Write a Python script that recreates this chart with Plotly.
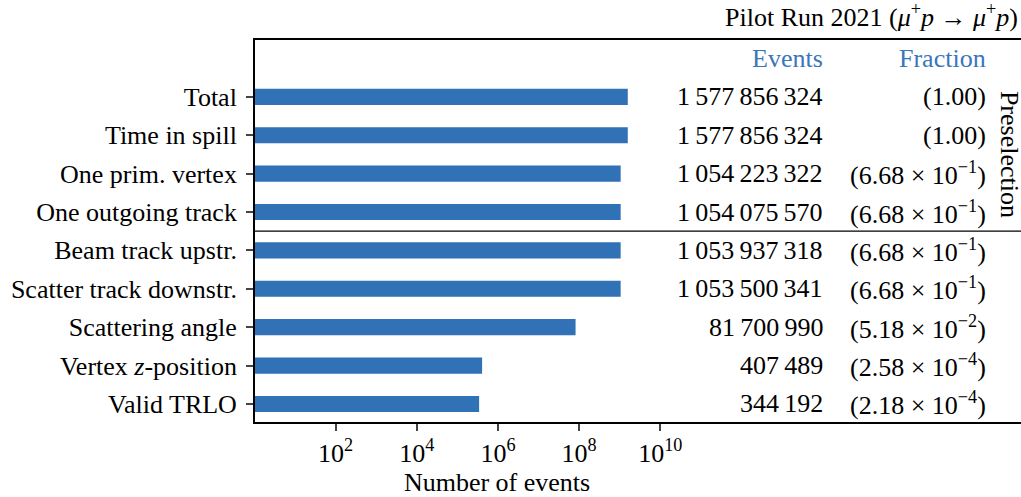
import plotly.graph_objects as go

# cut flow, top to bottom
cuts = [
    "Total",
    "Time in spill",
    "One prim. vertex",
    "One outgoing track",
    "Beam track upstr.",
    "Scatter track downstr.",
    "Scattering angle",
    "Vertex <i>z</i>-position",
    "Valid TRLO",
]
events = [
    1577856324,
    1577856324,
    1054223322,
    1054075570,
    1053937318,
    1053500341,
    81700990,
    407489,
    344192,
]
frac_mantissa = [None, None, 6.68, 6.68, 6.68, 6.68, 5.18, 2.58, 2.18]
frac_exponent = [None, None, -1, -1, -1, -1, -2, -4, -4]
xtick_vals = [1e2, 1e4, 1e6, 1e8, 1e10]
xtick_text = ["10<sup>2</sup>", "10<sup>4</sup>", "10<sup>6</sup>", "10<sup>8</sup>", "10<sup>10</sup>"]

BAR = "#3171b5"
HEAD = "#3a76ba"
FONT = "Liberation Serif"
FS = 26

ypos = list(range(len(cuts)))

fig = go.Figure()
fig.add_trace(
    go.Bar(
        x=events,
        y=ypos,
        orientation="h",
        width=0.42,
        marker=dict(color=BAR, line_width=0),
        base=1,
    )
)
# empty helper trace so the full-width frame axis gets drawn
fig.add_trace(go.Scatter(x=[None], y=[None], xaxis="x2", yaxis="y", mode="markers",
                         hoverinfo="skip"))


def fmt_events(n):
    return f"{n:,}".replace(",", "\u2009")


def fmt_frac(m, e):
    if m is None:
        return "(1.00)"
    return f"({m:.2f} × 10<sup>−{abs(e)}</sup>)"


EV_X = 0.744
FR_X = 0.957

annotations = []
for i, (n, m, e) in enumerate(zip(events, frac_mantissa, frac_exponent)):
    annotations.append(dict(x=EV_X, y=i, xref="paper", yref="y", text=fmt_events(n),
                            xanchor="right", showarrow=False))
    annotations.append(dict(x=FR_X, y=i, xref="paper", yref="y", text=fmt_frac(m, e),
                            xanchor="right", showarrow=False))

annotations += [
    dict(x=EV_X, y=-1, xref="paper", yref="y", text="Events", xanchor="right",
         showarrow=False, font=dict(color=HEAD)),
    dict(x=FR_X, y=-1, xref="paper", yref="y", text="Fraction", xanchor="right",
         showarrow=False, font=dict(color=HEAD)),
    dict(x=0.985, y=1.5, xref="paper", yref="y", text="Preselection", textangle=90,
         xanchor="center", yanchor="middle", showarrow=False, borderpad=0),
    dict(x=0.999, y=1.0, xref="paper", yref="paper", yanchor="bottom", xanchor="right",
         text="Pilot Run 2021 (<i>μ</i><sup>+</sup><i>p</i> → <i>μ</i><sup>+</sup><i>p</i>)",
         showarrow=False, yshift=6),
]

fig.update_layout(
    width=1021,
    height=497,
    margin=dict(l=255, r=0, t=40, b=75, autoexpand=False),
    plot_bgcolor="rgba(0,0,0,0)",
    paper_bgcolor="white",
    showlegend=False,
    font=dict(family=FONT, size=FS, color="black"),
    annotations=annotations,
    shapes=[
        # preselection separator
        dict(type="line", xref="paper", yref="y", x0=0, x1=1, y0=3.5, y1=3.5,
             line=dict(color="black", width=1.2)),
    ],
    xaxis=dict(
        type="log",
        domain=[0, 0.632],
        range=[0.017, 11.94],
        tickvals=xtick_vals,
        ticktext=xtick_text,
        ticks="outside",
        ticklen=7,
        tickwidth=1.5,
        showgrid=False,
        zeroline=False,
        showline=True,
        linecolor="black",
        linewidth=1.8,
        automargin=False,
        title=dict(text="Number of events", standoff=10, font=dict(size=FS)),
    ),
    # frame lines (top and bottom) across the whole panel
    xaxis2=dict(
        domain=[0, 1],
        anchor="y",
        range=[0, 1],
        showline=True,
        mirror=True,
        linecolor="black",
        linewidth=1.8,
        showticklabels=False,
        ticks="",
        showgrid=False,
        zeroline=False,
        automargin=False,
    ),
    yaxis=dict(
        range=[8.47, -1.48],
        tickvals=ypos,
        ticktext=cuts,
        ticks="outside",
        ticklen=7,
        tickwidth=1.5,
        showgrid=False,
        zeroline=False,
        showline=True,
        linecolor="black",
        linewidth=1.8,
        automargin=False,
        ticklabelstandoff=4,
    ),
)

fig.write_html("out.html", config=dict(displayModeBar=False),
               post_script="document.body.style.margin='0';")
